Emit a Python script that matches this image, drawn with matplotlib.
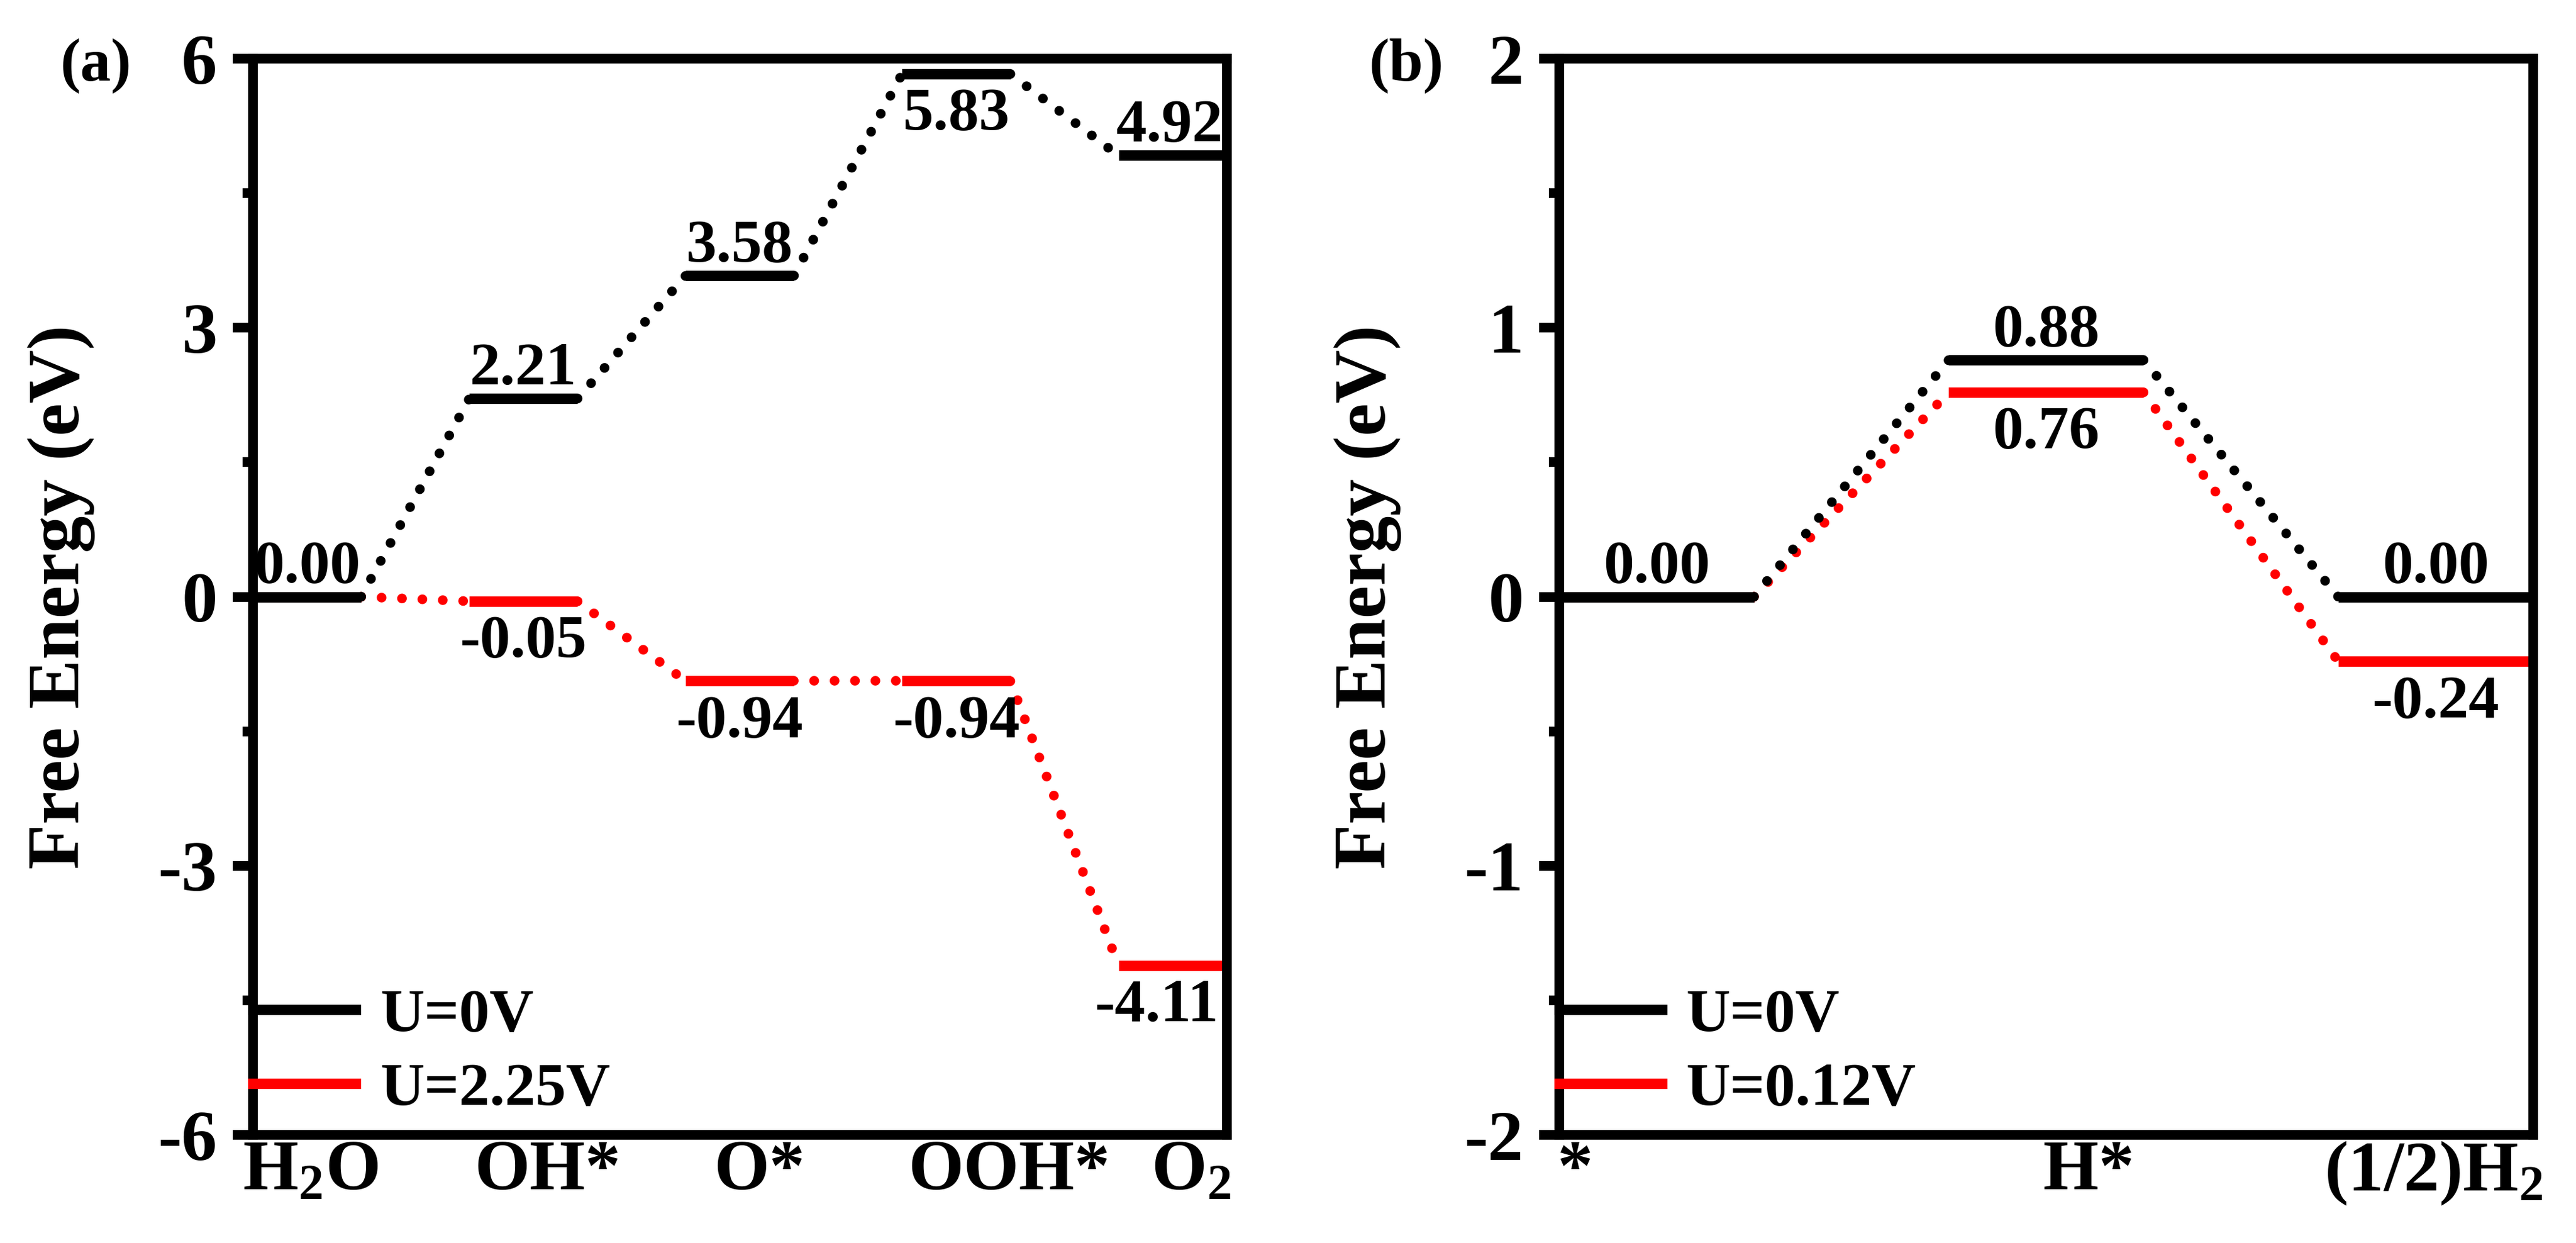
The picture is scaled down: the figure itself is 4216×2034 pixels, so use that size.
import matplotlib
matplotlib.use('Agg')
import matplotlib.pyplot as plt
from matplotlib.lines import Line2D
from matplotlib.ticker import MultipleLocator

plt.rcParams['font.family'] = ['Liberation Serif', 'DejaVu Serif']
plt.rcParams['font.weight'] = 'bold'
plt.rcParams['axes.labelweight'] = 'bold'
plt.rcParams['mathtext.fontset'] = 'custom'
plt.rcParams['mathtext.rm'] = 'Liberation Serif:bold'
plt.rcParams['mathtext.it'] = 'Liberation Serif:italic:bold'
plt.rcParams['mathtext.bf'] = 'Liberation Serif:bold'
plt.rcParams['axes.unicode_minus'] = False

# (a) OER
oer_steps = ['H$_2$O', 'OH*', 'O*', 'OOH*', 'O$_2$']
oer_u0 = [0.00, 2.21, 3.58, 5.83, 4.92]
oer_u225 = [0.00, -0.05, -0.94, -0.94, -4.11]
oer_legend = ['U=0V', 'U=2.25V']
oer_yticks = [-6, -3, 0, 3, 6]

# (b) HER
her_steps = ['*', 'H*', '(1/2)H$_2$']
her_u0 = [0.00, 0.88, 0.00]
her_u012 = [0.00, 0.76, -0.24]
her_legend = ['U=0V', 'U=0.12V']
her_yticks = [-2, -1, 0, 1, 2]

LEVEL_LW = 4.1
DOT_LW = 3.8
SPINE_LW = 3.8


def draw_path(ax, vals, color, above, skip_first=False, nudge=None, below_idx=()):
    nudge = nudge or {}
    n = len(vals)
    # dotted connectors between levels
    for i in range(n - 1):
        ax.plot([2 * i + 1, 2 * i + 2], [vals[i], vals[i + 1]], color=color,
                lw=DOT_LW, linestyle=(0, (0.01, 2.1)), dash_capstyle='round')
    # energy levels + value labels
    for i, v in enumerate(vals):
        ax.plot([2 * i, 2 * i + 1], [v, v], color=color, lw=LEVEL_LW,
                solid_capstyle='butt')
        if skip_first and i == 0:
            continue
        x = 2 * i + 0.5 + nudge.get(i, 0)
        if above and i not in below_idx:
            dy = 5.5
        else:
            dy = -22
        ax.annotate('%.2f' % v, (x, v), xytext=(0, dy), textcoords='offset points',
                    ha='center', va='baseline', fontsize=24)


def style_axes(ax, xmax, ylim, yticks, minor, xticks, xlabels, legend_labels):
    ax.set_xlim(0, xmax)
    ax.set_ylim(*ylim)
    ax.set_yticks(yticks)
    ax.yaxis.set_minor_locator(MultipleLocator(minor))
    ax.set_xticks(xticks)
    ax.set_xticklabels(xlabels)
    ax.tick_params(axis='x', length=0, pad=2, labelsize=28)
    ax.tick_params(axis='y', which='major', direction='out', length=8, width=SPINE_LW,
                   labelsize=28, pad=6)
    ax.tick_params(axis='y', which='minor', direction='out', length=4, width=SPINE_LW)
    for s in ax.spines.values():
        s.set_linewidth(SPINE_LW)
    ax.set_ylabel('Free Energy (eV)', fontsize=29, fontweight='bold')
    ax.yaxis.set_label_coords(-0.162, 0.5)
    handles = [Line2D([], [], color='black', lw=LEVEL_LW),
               Line2D([], [], color='red', lw=LEVEL_LW)]
    ax.legend(handles, legend_labels, loc='center left', bbox_to_anchor=(0, 0.076),
              frameon=False, fontsize=24, handlelength=1.68, handletextpad=0.4,
              labelspacing=0.30, borderpad=0, borderaxespad=0)


fig = plt.figure(figsize=(4216 / 300, 2034 / 300), dpi=300)

ax1 = fig.add_axes([0.0982, 0.0870, 0.378, 0.8658])
draw_path(ax1, oer_u225, 'red', above=False, skip_first=True, nudge={4: -0.15})
draw_path(ax1, oer_u0, 'black', above=True, nudge={4: -0.03}, below_idx=(3,))
style_axes(ax1, 9, (-6, 6), oer_yticks, 1.5, [0.53, 2.72, 4.68, 6.99, 8.67],
           oer_steps, oer_legend)

ax2 = fig.add_axes([0.6053, 0.0870, 0.378, 0.8658])
draw_path(ax2, her_u012, 'red', above=False, skip_first=True)
draw_path(ax2, her_u0, 'black', above=True)
style_axes(ax2, 5, (-2, 2), her_yticks, 0.5, [0.08, 2.72, 4.49],
           her_steps, her_legend)

fig.text(0.0372, 0.947, '(a)', fontsize=24, ha='center', va='center')
fig.text(0.546, 0.947, '(b)', fontsize=24, ha='center', va='center')

fig.savefig('out.png', dpi=300)
